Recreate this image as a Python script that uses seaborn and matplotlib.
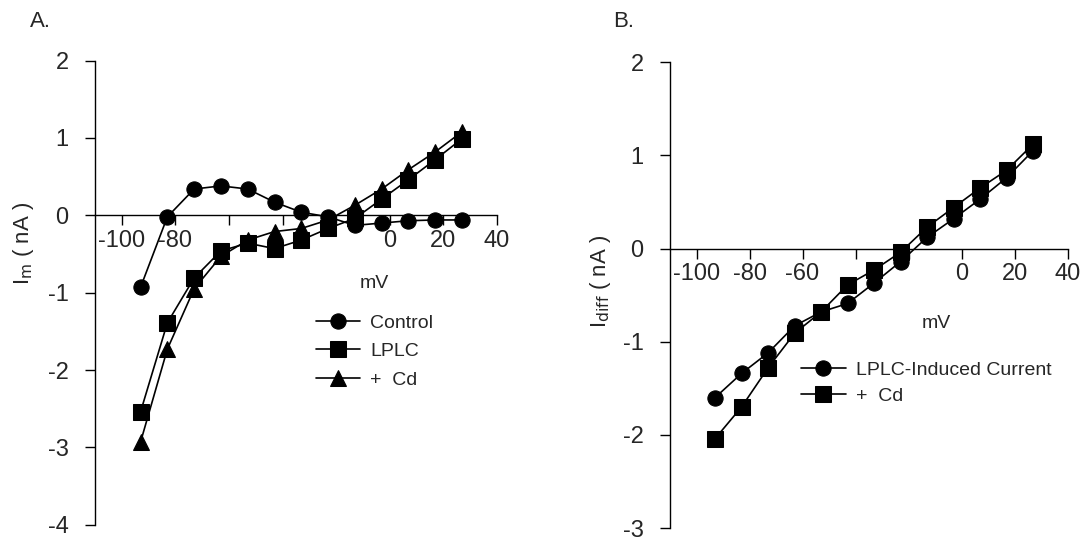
import matplotlib
matplotlib.use("Agg")
import matplotlib.pyplot as plt
import seaborn as sns

mv = [-93, -83, -73, -63, -53, -43, -33, -23, -13, -3, 7, 17, 27]
control = [-0.93, -0.02, 0.34, 0.38, 0.34, 0.17, 0.04, -0.02, -0.13, -0.10, -0.07, -0.06, -0.06]
lplc = [-2.54, -1.39, -0.81, -0.46, -0.36, -0.43, -0.32, -0.17, -0.04, 0.21, 0.46, 0.72, 0.99]
cd = [-2.93, -1.73, -0.95, -0.53, -0.32, -0.21, -0.17, -0.06, 0.13, 0.34, 0.59, 0.82, 1.08]
induced = [-1.60, -1.34, -1.12, -0.83, -0.68, -0.59, -0.37, -0.14, 0.12, 0.32, 0.53, 0.76, 1.05]
induced_cd = [-2.04, -1.70, -1.28, -0.91, -0.68, -0.39, -0.23, -0.04, 0.23, 0.44, 0.65, 0.84, 1.12]
xticks = [-100, -80, -60, -40, -20, 0, 20, 40]
xlabels_a = ["-100", "-80", "", "", "", "0", "20", "40"]
xlabels_b = ["-100", "-80", "-60", "", "", "0", "20", "40"]

sns.set_style("white")
plt.rcParams['font.family'] = ['Liberation Sans', 'DejaVu Sans']
plt.rcParams['axes.unicode_minus'] = False

fig = plt.figure(figsize=(10.86, 5.41), dpi=100)
axA = fig.add_axes([0.0875, 0.030, 0.370, 0.858])
axB = fig.add_axes([0.617, 0.024, 0.366, 0.861])

def style(ax, ylim, yticks, xlabels):
    ax.set_xlim(-110, 40)
    ax.set_ylim(*ylim)
    for s in ['top', 'right']:
        ax.spines[s].set_visible(False)
    ax.spines['bottom'].set_position(('data', 0))
    ax.spines['left'].set_position(('data', -110))
    for s in ['bottom', 'left']:
        ax.spines[s].set_color('black')
        ax.spines[s].set_linewidth(1.0)
    ax.set_xticks(xticks)
    ax.set_xticklabels(xlabels)
    ax.set_yticks(yticks)
    ax.tick_params(axis='both', direction='out', length=7, width=1, color='black', labelsize=17, bottom=True, left=True)
    ax.tick_params(axis='y', pad=12)
    ax.set_xlabel('')
    ax.set_ylabel('')

kw = dict(color='black', linewidth=1.2, markersize=11, markeredgecolor='black')
sns.lineplot(x=mv, y=control, ax=axA, marker='o', label='Control', **kw)
sns.lineplot(x=mv, y=lplc, ax=axA, marker='s', label='LPLC', **kw)
sns.lineplot(x=mv, y=cd, ax=axA, marker='^', label='+  Cd', **kw)
style(axA, (-4, 2), [-4, -3, -2, -1, 0, 1, 2], xlabels_a)
axA.legend(loc='upper left', bbox_to_anchor=(0.53, 0.47), frameon=False, fontsize=14,
           handlelength=2.3, labelspacing=0.55, borderaxespad=0, handletextpad=0.5)
axA.text(0.695, 0.51, 'mV', transform=axA.transAxes, fontsize=14, ha='center')

sns.lineplot(x=mv, y=induced, ax=axB, marker='o', label='LPLC-Induced Current', **kw)
sns.lineplot(x=mv, y=induced_cd, ax=axB, marker='s', label='+  Cd', **kw)
style(axB, (-3, 2), [-3, -2, -1, 0, 1, 2], xlabels_b)
axB.legend(loc='upper left', bbox_to_anchor=(0.31, 0.375), frameon=False, fontsize=14,
           handlelength=2.3, labelspacing=0.45, borderaxespad=0, handletextpad=0.5)
axB.text(0.67, 0.43, 'mV', transform=axB.transAxes, fontsize=14, ha='center')

fig.text(0.022, 0.55, r'I$_{\rm m}$ ( nA )', rotation=90, fontsize=16, ha='center', va='center')
fig.text(0.553, 0.48, r'I$_{\rm diff}$ ( nA )', rotation=90, fontsize=16, ha='center', va='center')
fig.text(0.028, 0.95, 'A.', fontsize=16)
fig.text(0.565, 0.95, 'B.', fontsize=16)

fig.savefig('out.png', dpi=100)
